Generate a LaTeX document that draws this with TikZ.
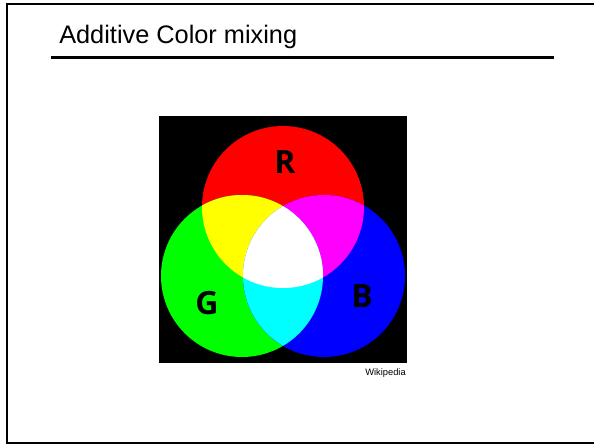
\documentclass[tikz,border=0pt]{standalone}
\usepackage{fontspec}
\setmainfont{Liberation Sans}
\newfontfamily\rgbfont{Open Sans}
\usepackage{tikz}
\definecolor{pureRed}{RGB}{255,0,0}
\definecolor{pureGreen}{RGB}{0,255,0}
\definecolor{pureBlue}{RGB}{0,0,255}
\definecolor{pureYellow}{RGB}{255,255,0}
\definecolor{pureMagenta}{RGB}{255,0,255}
\definecolor{pureCyan}{RGB}{0,255,255}

\begin{document}
\begin{tikzpicture}[x=0.75pt,y=0.75pt,yscale=-1,xscale=1]
\useasboundingbox (0,0) rectangle (594,445);

%Shape: Frame [id:slide_frame]
\draw  [line width=1.5]  (640,4.5) -- (7,4.5) -- (7,443.5) -- (640,443.5) ;
%Straight Lines [id:title_rule]
\draw  [line width=2.2]  (51,57.5) -- (554,57.5) ;

%Shape: Square [id:picture_back]
\fill  (159,116) rectangle (407,363) ;

\coordinate (cR) at (283,207) ;
\coordinate (cG) at (242,276) ;
\coordinate (cB) at (324,276) ;

%Shape: Circle [id:red_disc]
\fill [pureRed]  (cR) circle (81) ;
%Shape: Circle [id:green_disc]
\fill [pureGreen]  (cG) circle (81) ;
%Shape: Circle [id:blue_disc]
\fill [pureBlue]  (cB) circle (81) ;
% red + green
\begin{scope}
\clip (cR) circle (81) ;
\fill [pureYellow]  (cG) circle (81) ;
\end{scope}
% red + blue
\begin{scope}
\clip (cR) circle (81) ;
\fill [pureMagenta]  (cB) circle (81) ;
\end{scope}
% green + blue
\begin{scope}
\clip (cG) circle (81) ;
\fill [pureCyan]  (cB) circle (81) ;
\end{scope}
% all three
\begin{scope}
\clip (cR) circle (81) ;
\clip (cG) circle (81) ;
\fill [white]  (cB) circle (81) ;
\end{scope}

% Text Node
\draw (59,44) node [anchor=base west,inner sep=0,font=\fontsize{19}{23}\selectfont] (title) {Additive Color mixing};
% Text Node
\draw (285,162) node [font=\rgbfont\bfseries\fontsize{24}{28}\selectfont] (lblR) {R};
% Text Node
\draw (207,303) node [font=\rgbfont\bfseries\fontsize{24}{28}\selectfont] (lblG) {G};
% Text Node
\draw (362,296) node [font=\rgbfont\bfseries\fontsize{24}{28}\selectfont] (lblB) {B};
% Text Node
\draw (406,376) node [anchor=base east,inner sep=0,font=\fontsize{7}{8}\selectfont] (credit) {Wikipedia};

\end{tikzpicture}
\end{document}
